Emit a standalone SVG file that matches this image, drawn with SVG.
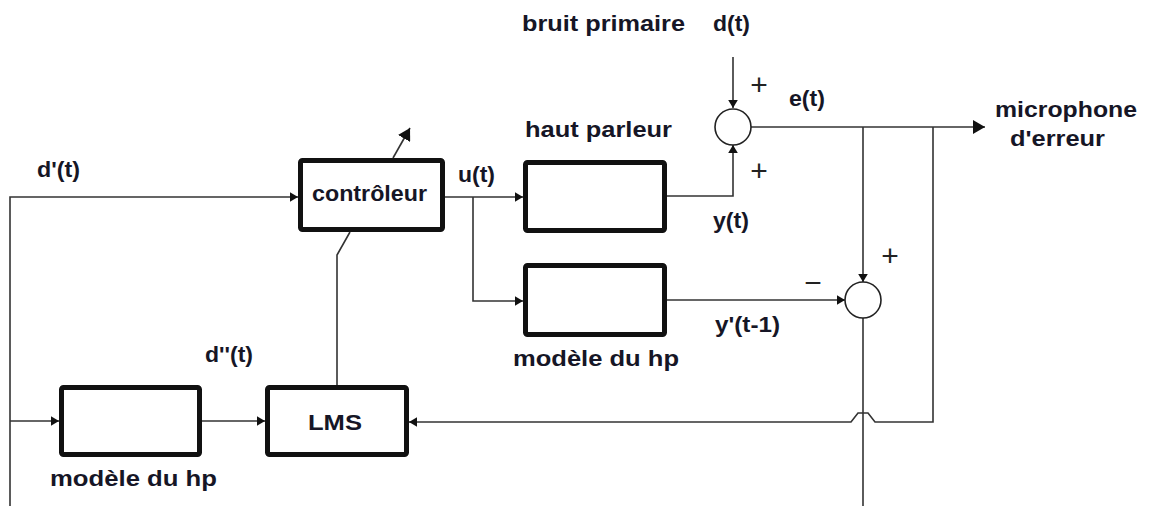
<svg xmlns="http://www.w3.org/2000/svg" width="1152" height="506" viewBox="0 0 1152 506">
<defs>
<style>
.box{fill:#fff;stroke:#111;stroke-width:5}
.ln{fill:none;stroke:#333;stroke-width:1.6}
.sum{fill:#fff;stroke:#222;stroke-width:1.6}
.t{font-family:"Liberation Sans",Arial,sans-serif;font-weight:bold;font-size:22px;fill:#161626}
.s{font-family:"Liberation Sans",Arial,sans-serif;font-size:30px;fill:#222}
</style>
<marker id="ah" viewBox="0 0 10 12" refX="10" refY="6" markerWidth="8" markerHeight="12" markerUnits="userSpaceOnUse" orient="auto">
<path d="M0,0 L10,6 L0,12 z" fill="#111"/>
</marker>
<marker id="big" viewBox="0 0 12 14" refX="12" refY="7" markerWidth="12" markerHeight="14" markerUnits="userSpaceOnUse" orient="auto">
<path d="M0,0 L12,7 L0,14 z" fill="#111"/>
</marker>
</defs>
<rect width="1152" height="506" fill="#fff"/>
<g id="connectors">
<path class="ln" d="M10,506 L10,197 L298,197" marker-end="url(#ah)"/>
<path class="ln" d="M10,421 L59,421" marker-end="url(#ah)"/>
<path class="ln" d="M202,421 L265,421" marker-end="url(#ah)"/>
<path class="ln" d="M337,385 L337,255 L350,232"/>
<path class="ln" d="M393,158 L410,128" marker-end="url(#big)"/>
<path class="ln" d="M445,197 L523,197" marker-end="url(#ah)"/>
<path class="ln" d="M473,197 L473,301 L523,301" marker-end="url(#ah)"/>
<path class="ln" d="M733,57 L733,108" marker-end="url(#ah)"/>
<path class="ln" d="M667,196 L733,196 L733,145" marker-end="url(#ah)"/>
<path class="ln" d="M751,127 L985,127" marker-end="url(#big)"/>
<path class="ln" d="M863,127 L863,282" marker-end="url(#ah)"/>
<path class="ln" d="M667,300 L845,300" marker-end="url(#ah)"/>
<path class="ln" d="M863,318 L863,506"/>
<path class="ln" d="M933,127 L933,422 L875,422 L868,413 L858,413 L851,422 L409,422" marker-end="url(#ah)"/>
</g>
<g id="controleur">
<rect class="box" x="300.5" y="160.5" width="142" height="69" rx="2"/>
<text class="t" x="312" y="201" textLength="115" lengthAdjust="spacingAndGlyphs">contrôleur</text>
</g>
<g id="haut-parleur">
<rect class="box" x="525.5" y="162.5" width="139" height="68" rx="2"/>
<text class="t" x="525" y="137" textLength="147" lengthAdjust="spacingAndGlyphs">haut parleur</text>
</g>
<g id="modele-hp-haut">
<rect class="box" x="525.5" y="265.5" width="139" height="69" rx="2"/>
<text class="t" x="513" y="366" textLength="166" lengthAdjust="spacingAndGlyphs">modèle du hp</text>
</g>
<g id="modele-hp-bas">
<rect class="box" x="61.5" y="387.5" width="138" height="67" rx="2"/>
<text class="t" x="50" y="486" textLength="167" lengthAdjust="spacingAndGlyphs">modèle du hp</text>
</g>
<g id="lms">
<rect class="box" x="267.5" y="387.5" width="139" height="67" rx="2"/>
<text class="t" x="308" y="430" textLength="54" lengthAdjust="spacingAndGlyphs">LMS</text>
</g>
<g id="somme1">
<circle class="sum" cx="733" cy="127" r="18"/>
<text class="s" x="759" y="95" text-anchor="middle">+</text>
<text class="s" x="759" y="181" text-anchor="middle">+</text>
</g>
<g id="somme2">
<circle class="sum" cx="863" cy="300" r="18"/>
<text class="s" x="890" y="266" text-anchor="middle">+</text>
<text class="s" x="813" y="293" text-anchor="middle">−</text>
</g>
<g id="labels">
<text class="t" x="522" y="31" textLength="163" lengthAdjust="spacingAndGlyphs">bruit primaire</text>
<text class="t" x="713" y="31" textLength="37" lengthAdjust="spacingAndGlyphs">d(t)</text>
<text class="t" x="789" y="106" textLength="36" lengthAdjust="spacingAndGlyphs">e(t)</text>
<text class="t" x="995" y="117" textLength="142" lengthAdjust="spacingAndGlyphs">microphone</text>
<text class="t" x="1010" y="146" textLength="95" lengthAdjust="spacingAndGlyphs">d'erreur</text>
<text class="t" x="37" y="177" textLength="43" lengthAdjust="spacingAndGlyphs">d'(t)</text>
<text class="t" x="458" y="182" textLength="37" lengthAdjust="spacingAndGlyphs">u(t)</text>
<text class="t" x="713" y="228" textLength="36" lengthAdjust="spacingAndGlyphs">y(t)</text>
<text class="t" x="715" y="332" textLength="65" lengthAdjust="spacingAndGlyphs">y'(t-1)</text>
<text class="t" x="205" y="362" textLength="48" lengthAdjust="spacingAndGlyphs">d''(t)</text>
</g>
</svg>
